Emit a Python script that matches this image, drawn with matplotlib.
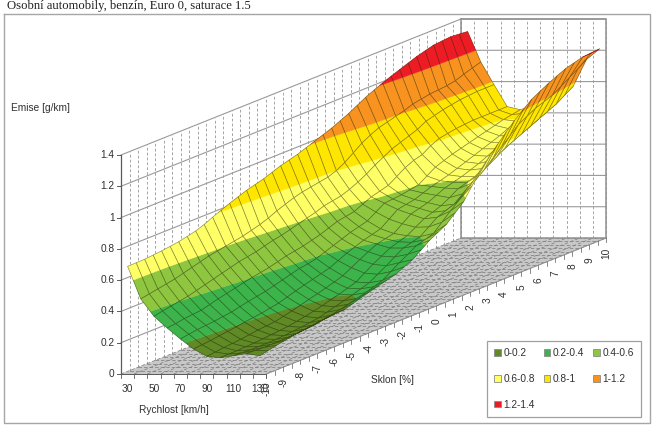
import numpy as np
import matplotlib
matplotlib.use('Agg')
import matplotlib.pyplot as plt
from matplotlib.collections import PolyCollection
from matplotlib.colors import to_rgba
from matplotlib.patches import Patch

speeds = [30, 40, 50, 60, 70, 80, 90, 100, 110, 120, 130]
speed_labels = ['30', '50', '70', '90', '110', '130']
slope_labels = ['-10', '-9', '-8', '-7', '-6', '-5', '-4', '-3', '-2', '-1', '0',
                '1', '2', '3', '4', '5', '6', '7', '8', '9', '10']
z_ticks = [0, 0.2, 0.4, 0.6, 0.8, 1, 1.2, 1.4]
z_labels = ['0', '0.2', '0.4', '0.6', '0.8', '1', '1.2', '1.4']
band_labels = ['0-0.2', '0.2-0.4', '0.4-0.6', '0.6-0.8', '0.8-1', '1-1.2', '1.2-1.4']
band_colors = ['#5f8a25', '#3cb44b', '#8ec63f', '#ffff66', '#ffe600', '#f7931e', '#ed1c24']

# one row per slope step of 0.5 %, from -10 to 10, one value per speed
emise = [
    [.688, .48, .369, .294, .224, .16, .113, .104, .117, .13, .117],
    [.689, .49, .38, .30, .232, .165, .118, .105, .113, .128, .128],
    [.69, .50, .39, .31, .24, .17, .125, .105, .11, .125, .14],
    [.695, .51, .40, .315, .245, .178, .13, .108, .11, .125, .15],
    [.70, .52, .41, .32, .25, .185, .135, .11, .11, .125, .16],
    [.707, .535, .425, .335, .258, .192, .142, .115, .112, .127, .168],
    [.715, .55, .44, .35, .265, .20, .15, .12, .115, .13, .175],
    [.727, .565, .455, .362, .278, .208, .155, .125, .12, .135, .183],
    [.74, .58, .47, .375, .29, .215, .16, .13, .125, .14, .19],
    [.76, .59, .485, .388, .30, .225, .172, .14, .132, .15, .193],
    [.785, .60, .50, .40, .31, .235, .185, .15, .14, .16, .195],
    [.808, .61, .51, .41, .325, .252, .20, .162, .155, .172, .212],
    [.83, .62, .52, .42, .34, .27, .215, .175, .17, .185, .23],
    [.85, .635, .535, .435, .355, .285, .23, .19, .185, .20, .245],
    [.87, .65, .55, .45, .37, .30, .245, .205, .20, .215, .26],
    [.885, .67, .56, .46, .378, .315, .262, .222, .218, .232, .275],
    [.90, .695, .575, .47, .39, .33, .28, .24, .235, .25, .29],
    [.92, .715, .59, .485, .41, .355, .31, .275, .268, .285, .315],
    [.94, .735, .605, .50, .43, .38, .34, .31, .30, .32, .34],
    [.955, .75, .62, .52, .45, .40, .368, .34, .335, .352, .38],
    [.97, .76, .64, .54, .47, .42, .395, .37, .37, .385, .42],
    [.99, .77, .65, .55, .485, .435, .408, .388, .385, .402, .45],
    [1.01, .78, .66, .56, .50, .45, .42, .405, .40, .42, .48],
    [1.03, .80, .68, .585, .535, .49, .46, .438, .44, .47, .53],
    [1.05, .83, .705, .61, .57, .53, .50, .47, .48, .52, .58],
    [1.075, .87, .735, .625, .575, .54, .515, .49, .50, .565, .66],
    [1.10, .91, .77, .64, .58, .55, .53, .51, .52, .61, .74],
    [1.13, .94, .80, .675, .59, .57, .555, .54, .565, .655, .80],
    [1.16, .965, .83, .71, .60, .59, .58, .575, .61, .70, .86],
    [1.185, .98, .85, .735, .635, .605, .595, .592, .645, .75, .915],
    [1.208, .995, .87, .75, .67, .62, .61, .61, .68, .80, .97],
    [1.23, 1.01, .89, .785, .69, .64, .63, .64, .715, .85, 1.015],
    [1.25, 1.03, .92, .81, .71, .66, .65, .67, .75, .90, 1.06],
    [1.27, 1.04, .935, .82, .725, .68, .675, .70, .775, .93, 1.09],
    [1.29, 1.05, .95, .83, .74, .70, .70, .73, .80, .96, 1.12],
    [1.305, 1.055, .96, .835, .755, .72, .72, .755, .825, .98, 1.145],
    [1.32, 1.06, .97, .84, .77, .74, .74, .78, .85, 1.0, 1.17],
    [1.325, 1.07, .975, .84, .785, .765, .77, .81, .875, 1.035, 1.185],
    [1.33, 1.09, .98, .84, .80, .79, .80, .84, .90, 1.07, 1.20],
    [1.325, 1.108, .98, .84, .81, .82, .84, .88, .935, 1.105, 1.205],
    [1.32, 1.125, .98, .84, .82, .85, .88, .92, .97, 1.14, 1.21],
]

plt.rcParams['font.family'] = ['Liberation Sans', 'DejaVu Sans']

# oblique projection of the box onto picture pixels
X0, Y0 = 121.0, 374.0
STEP_SPEED = 13.2
STEP_SLOPE_X, STEP_SLOPE_Y = 8.5, 3.4
Z_SCALE = 219 / 1.4
GRID = '#808080'
AXIS = '#5a5a5a'
TXT = '#303030'


def proj(j, k, z=0.0):
    # j: speed cell position (points sit at j+0.5), k: half-step slope index
    return X0 + STEP_SPEED * j + STEP_SLOPE_X * k, Y0 - STEP_SLOPE_Y * k - Z_SCALE * z


def clip_band(poly, lo, hi):
    for limit, keep_above in ((lo, True), (hi, False)):
        out = []
        for i in range(len(poly)):
            a, b = poly[i], poly[(i + 1) % len(poly)]
            ina = a[2] >= limit if keep_above else a[2] <= limit
            inb = b[2] >= limit if keep_above else b[2] <= limit
            if ina:
                out.append(a)
            if ina != inb:
                t = (limit - a[2]) / (b[2] - a[2])
                out.append((a[0] + t * (b[0] - a[0]), a[1] + t * (b[1] - a[1]), limit))
        poly = out
        if not poly:
            return []
    return poly


fig = plt.figure(figsize=(6.55, 4.26), dpi=100)
ax = fig.add_axes([0, 0, 1, 1])
ax.set_xlim(0, 655)
ax.set_ylim(426, 0)
ax.axis('off')

# outer frame and title
ax.plot([4, 650, 650, 4, 4], [13.5, 13.5, 423, 423, 13.5], color='#a6a6a6', lw=1)
ax.text(7, 6.5, 'Osobní automobily, benzín, Euro 0, saturace 1.5', family='Liberation Serif',
        fontsize=9.1, color='#202020', va='center', ha='left')

n_speed = len(speeds)
n_slope = len(emise)
k_max = n_slope - 1

# floor
corners = [proj(0, 0), proj(n_speed, 0), proj(n_speed, k_max), proj(0, k_max)]
ax.fill([c[0] for c in corners], [c[1] for c in corners], color='#c8c8c8', lw=0)
for k in range(n_slope):
    a, b = proj(0, k), proj(n_speed, k)
    ax.plot([a[0], b[0]], [a[1], b[1]], color='#7a7a7a', lw=0.5, ls=(0, (5, 3)))
for j in range(n_speed + 1):
    a, b = proj(j, 0), proj(j, k_max)
    ax.plot([a[0], b[0]], [a[1], b[1]], color='#7a7a7a', lw=0.5, ls=(0, (5, 3)))

# walls
for k in range(n_slope):
    a, b = proj(0, k), proj(0, k, z_ticks[-1])
    ax.plot([a[0], b[0]], [a[1], b[1]], color=GRID, lw=0.5, ls=(0, (4, 3)))
for j in range(n_speed + 1):
    a, b = proj(j, k_max), proj(j, k_max, z_ticks[-1])
    ax.plot([a[0], b[0]], [a[1], b[1]], color=GRID, lw=0.5, ls=(0, (4, 3)))
for z in z_ticks[1:]:
    p = [proj(0, 0, z), proj(0, k_max, z), proj(n_speed, k_max, z)]
    ax.plot([q[0] for q in p], [q[1] for q in p], color='#9a9a9a', lw=0.8)
p = [proj(0, k_max), proj(n_speed, k_max), proj(n_speed, k_max, z_ticks[-1]), proj(0, k_max, z_ticks[-1])]
ax.plot([q[0] for q in p], [q[1] for q in p], color='#909090', lw=1.1)
a, b = proj(0, k_max), proj(0, k_max, z_ticks[-1])
ax.plot([a[0], b[0]], [a[1], b[1]], color='#909090', lw=1.1)

# surface, far cells first, each cell cut into its colour bands
polys, faces, edges, widths = [], [], [], []
levels = z_ticks
for k in range(n_slope - 2, -1, -1):
    for j in range(n_speed - 1):
        cell = [(j + .5, k, emise[k][j]), (j + 1.5, k, emise[k][j + 1]),
                (j + 1.5, k + 1, emise[k + 1][j + 1]), (j + .5, k + 1, emise[k + 1][j])]
        for b in range(len(band_colors)):
            part = clip_band(cell, levels[b], levels[b + 1])
            if len(part) >= 3:
                polys.append([proj(*q) for q in part])
                faces.append(to_rgba(band_colors[b]))
                edges.append(to_rgba(band_colors[b]))
                widths.append(0.3)
        polys.append([proj(*q) for q in cell])
        faces.append((0, 0, 0, 0))
        edges.append((0.1, 0.1, 0, 0.5))
        widths.append(0.45)
ax.add_collection(PolyCollection(polys, facecolors=faces, edgecolors=edges, linewidths=widths, closed=True,
                                 zorder=5))

# axes, ticks, labels
a, b = proj(0, 0), proj(0, 0, z_ticks[-1])
ax.plot([a[0], b[0]], [a[1], b[1]], color=AXIS, lw=0.9)
for z, lab in zip(z_ticks, z_labels):
    x, y = proj(0, 0, z)
    ax.plot([x - 4, x], [y, y], color=AXIS, lw=0.7)
    ax.text(x - 6.5, y, lab, ha='right', va='center', fontsize=7.3, color=TXT)
a, b = proj(0, 0), proj(n_speed, 0)
ax.plot([a[0], b[0]], [a[1], b[1]], color=AXIS, lw=0.7)
for j in range(n_speed + 1):
    x, y = proj(j, 0)
    ax.plot([x, x], [y, y + 4], color=AXIS, lw=0.6)
for i, lab in enumerate(speed_labels):
    x, y = proj(i * 2 + 0.5, 0)
    ax.text(x, y + 15, lab, ha='center', va='center', fontsize=7.3, color=TXT)
a, b = proj(n_speed, 0), proj(n_speed, k_max)
ax.plot([a[0], b[0]], [a[1], b[1]], color='#909090', lw=0.7)
for k in range(n_slope):
    x, y = proj(n_speed, k)
    ax.plot([x, x], [y, y + 4], color=AXIS, lw=0.5)
for i, lab in enumerate(slope_labels):
    x, y = proj(n_speed, i * 2)
    ax.text(x, y + 15, lab, ha='center', va='center', rotation=90, fontsize=7.3, color=TXT)

ax.text(11, 108, 'Emise [g/km]', ha='left', va='center', fontsize=7.3, color=TXT)
ax.text(174, 410, 'Rychlost [km/h]', ha='center', va='center', fontsize=7.3, color=TXT)
ax.text(392, 380, 'Sklon [%]', ha='center', va='center', fontsize=7.3, color=TXT)

# legend fills column by column
order = [0, 3, 6, 1, 4, 2, 5]
handles = [Patch(facecolor=band_colors[i], edgecolor='#8a8a8a', lw=0.6, label=band_labels[i]) for i in order]
leg = ax.legend(handles=handles, ncol=3, loc='upper left', bbox_to_anchor=(487, 341), bbox_transform=ax.transData,
                frameon=True, fancybox=False, edgecolor='#a0a0a0', framealpha=1, fontsize=7.3, borderaxespad=0,
                handlelength=0.65, handleheight=0.65, handletextpad=0.25, columnspacing=0.9,
                labelspacing=1.55, borderpad=0.7, labelcolor=TXT)
leg.get_frame().set_linewidth(0.9)
leg.set_zorder(10)

fig.savefig('out.png', dpi=100)
